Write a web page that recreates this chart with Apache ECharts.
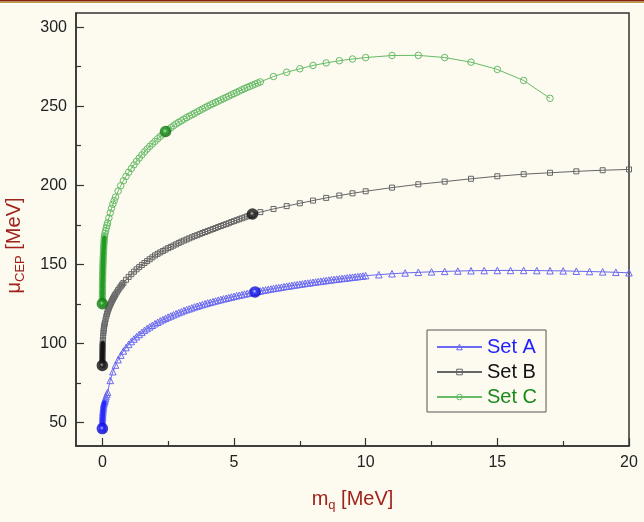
<!DOCTYPE html>
<html>
<head>
<meta charset="utf-8">
<script src="https://cdn.jsdelivr.net/npm/echarts@6/dist/echarts.min.js"></script>
<style>
html,body{margin:0;padding:0;background:#fdfaf0;}
#chart{width:644px;height:522px;}
</style>
</head>
<body>
<div id="chart"></div>
<script>
// ---- data ----
const setA = [
[0,46],[0.001,47],[0.002,48],[0.003,49],[0.004,50],[0.006,51],[0.008,52],[0.01,53],[0.013,54],[0.016,55],
[0.02,56],[0.025,57],[0.03,58],[0.036,59],[0.043,60],[0.05,61],[0.06,61.8],[0.07,62.5],[0.085,63.3],[0.1,64],
[0.12,65],[0.14,66.2],[0.17,67.6],
[0.2,69.0],[0.3,76.5],[0.4,82.0],[0.5,86.2],[0.6,89.6],[0.7,92.5],[0.8,95.1],[0.9,97.3],[1.0,99.3],
[1.1,101.1],[1.2,102.7],[1.3,104.2],[1.4,105.6],[1.5,106.9],[1.6,108.2],[1.7,109.3],[1.8,110.4],[1.9,111.4],[2.0,112.4],
[2.1,113.3],[2.2,114.2],[2.3,115.0],[2.4,115.8],[2.5,116.6],[2.6,117.3],[2.7,118.0],[2.8,118.7],[2.9,119.4],[3.0,120.0],
[3.1,120.7],[3.2,121.3],[3.3,121.8],[3.4,122.4],[3.5,123.0],[3.6,123.5],[3.7,124.0],[3.8,124.5],[3.9,125.0],[4.0,125.5],
[4.1,125.9],[4.2,126.4],[4.3,126.8],[4.4,127.3],[4.5,127.7],[4.6,128.1],[4.7,128.5],[4.8,128.9],[4.9,129.3],[5.0,129.7],
[5.1,130.1],[5.2,130.4],[5.3,130.8],[5.4,131.2],[5.5,131.5],[5.6,131.8],[5.7,132.2],[5.8,132.5],[5.9,132.8],[6.0,133.1],
[6.1,133.5],[6.2,133.8],[6.3,134.1],[6.4,134.4],[6.5,134.7],[6.6,135.0],[6.7,135.2],[6.8,135.5],[6.9,135.8],[7.0,136.1],
[7.1,136.3],[7.2,136.6],[7.3,136.9],[7.4,137.1],[7.5,137.4],[7.6,137.6],[7.7,137.9],[7.8,138.1],[7.9,138.3],[8.0,138.6],
[8.1,138.8],[8.2,139.1],[8.3,139.3],[8.4,139.5],[8.5,139.7],[8.6,140.0],[8.7,140.2],[8.8,140.4],[8.9,140.6],[9.0,140.8],
[9.1,141.0],[9.2,141.2],[9.3,141.4],[9.4,141.6],[9.5,141.8],[9.6,142.0],[9.7,142.2],[9.8,142.4],[9.9,142.6],[10.0,142.8],
[10.5,143.4],[11,144.0],[11.5,144.5],[12,144.9],[12.5,145.2],[13,145.5],[13.5,145.7],[14,145.9],[14.5,146.0],[15,146.1],
[15.5,146.1],[16,146.1],[16.5,146.0],[17,145.9],[17.5,145.8],[18,145.6],[18.5,145.4],[19,145.2],[19.5,144.9],[20,144.6]
];
const setB = [
[0,86],[0.0005,87],[0.001,88],[0.0015,89],[0.002,90],[0.0025,91],[0.003,92],[0.004,93],[0.005,94],[0.006,95],
[0.007,96],[0.008,97],[0.01,98],[0.012,99],[0.014,100],[0.02,102],[0.03,104.5],[0.04,106.5],[0.05,108.2],[0.06,109.5],
[0.07,110.7],[0.085,112],[0.1,113.2],[0.125,115.2],
[0.15,117],[0.175,118.6],[0.2,120],[0.225,121.3],[0.25,122.5],[0.275,123.5],[0.3,124.5],[0.325,125.4],[0.35,126.3],[0.375,127.2],
[0.4,128],[0.425,128.8],[0.45,129.5],[0.475,130.3],[0.5,131],[0.55,132.3],
[0.6,133.6],[0.65,134.8],[0.7,136],[0.75,137.1],[0.8,138.2],
[0.9,140.2],[1.0,142],[1.1,143.7],[1.2,145.3],[1.3,146.8],[1.4,148.2],[1.5,149.5],[1.6,150.8],[1.7,152],[1.8,153.2],[1.9,154.4],
[2.0,155.6],[2.1,156.6],[2.2,157.5],[2.3,158.4],[2.4,159.3],[2.5,160.2],[2.6,161.0],[2.7,161.8],[2.8,162.6],[2.9,163.5],
[3.0,164.3],[3.1,165.0],[3.2,165.7],[3.3,166.4],[3.4,167.1],[3.5,167.8],[3.6,168.4],[3.7,169.1],[3.8,169.8],[3.9,170.4],
[4.0,171.0],[4.1,171.6],[4.2,172.3],[4.3,172.9],[4.4,173.6],[4.5,174.2],[4.6,174.8],[4.7,175.4],[4.8,176.0],[4.9,176.7],
[5.0,177.3],[5.1,177.9],[5.2,178.5],[5.3,179.1],[5.4,179.7],[5.5,180.3],[5.6,180.9],[5.7,181.5],
[6.0,183.0],[6.5,185.0],[7.0,186.8],[7.5,188.6],[8.0,190.3],[8.5,192.0],[9.0,193.5],[9.5,194.9],[10,196.2],
[11,198.5],[12,200.6],[13,202.3],[14,204.1],[15,205.7],[16,207.0],[17,207.9],[18,208.8],[19,209.5],[20,210.0]
];
const setC = [
[0,125],[0.0005,126.5],[0.001,128],[0.0015,129.5],[0.002,131],[0.003,132.5],[0.004,134],[0.005,135.5],[0.006,137],[0.008,138.5],
[0.01,140],[0.012,141.5],[0.014,143],[0.016,144.5],[0.018,146],[0.02,147.5],[0.023,149],[0.026,150.5],[0.029,152],[0.032,153.5],
[0.036,155],[0.04,156.5],[0.044,158],[0.048,159.5],[0.053,161],[0.058,162.5],[0.064,164],[0.07,165.5],[0.077,167],[0.085,168],
[0.1,169.5],[0.125,171.2],[0.15,173],[0.175,174.6],[0.2,176.2],[0.25,179.3],[0.3,182.5],[0.35,185.4],[0.4,188],[0.45,190.3],[0.5,192.5],
[0.6,196.3],[0.7,199.7],[0.8,202.8],[0.9,205.6],[1.0,208.2],[1.1,210.6],[1.2,212.9],[1.3,215.1],[1.4,217.2],[1.5,219.2],
[1.6,221.1],[1.7,222.9],[1.8,224.6],[1.9,226.2],[2.0,227.8],[2.1,229.4],[2.2,230.9],[2.3,232.4],[2.4,233.8],[2.5,235.2],
[2.6,236.4],[2.7,237.6],[2.8,238.8],[2.9,239.8],[3.0,240.8],[3.1,241.8],[3.2,242.8],[3.3,243.7],[3.4,244.6],[3.5,245.5],
[3.6,246.4],[3.7,247.3],[3.8,248.2],[3.9,249.1],[4.0,250.0],[4.1,250.8],[4.2,251.6],[4.3,252.4],[4.4,253.2],[4.5,254.0],
[4.6,254.8],[4.7,255.6],[4.8,256.4],[4.9,257.2],[5.0,258.0],[5.1,258.8],[5.2,259.6],[5.3,260.4],[5.4,261.2],[5.5,261.9],
[5.6,262.6],[5.7,263.3],[5.8,264.0],[5.9,264.7],[6.0,265.4],
[6.5,268.8],[7.0,271.5],[7.5,273.7],[8.0,275.8],[8.5,277.4],[9.0,278.8],[9.5,279.9],[10,280.8],
[11,282.1],[12,282.2],[13,280.8],[14,277.9],[15,273.3],[16,266.3],[17,255.0]
];
// highlighted (filled) points
const ballsA = [[0,46],[5.8,132.5]];
const ballsB = [[0,86],[5.7,181.8]];
const ballsC = [[0,125],[2.4,234]];
// number of leading points that overlap into a solid stroke near m_q = 0
const solidCountA = 18, solidCountB = 15, solidCountC = 29, greyEndB = 45;
// tick values
const xMajorTicks = [0,5,10,15,20];
const xMinorTicks = [2.5,7.5,12.5,17.5];
const yMajorTicks = [50,100,150,200,250,300];
const yMinorTicks = [75,125,175,225,275];
const legendNames = ['Set A','Set B','Set C'];

// ---- chart ----
const FONT = "'Liberation Sans', Arial, sans-serif";
const NAME_COLOR = '#a0231b';
const AXIS_COLOR = '#333';
const colA = '#6a6af2', colB = '#666666', colC = '#66bb66';

function ball(c0, c1, c2) {
  return new echarts.graphic.RadialGradient(0.45, 0.45, 0.6, [
    {offset: 0, color: c0}, {offset: 0.3, color: c1}, {offset: 1, color: c2}
  ]);
}
function solid(data, color, width) {
  return {type: 'line', data: data, symbol: 'none', silent: true, z: 4,
    lineStyle: {color: color, width: width, cap: 'round', join: 'round'}};
}

const nameRich = {
  m: {fontSize: 20, color: NAME_COLOR, fontFamily: FONT, lineHeight: 26, verticalAlign: 'middle'},
  s: {fontSize: 13, color: NAME_COLOR, fontFamily: FONT, lineHeight: 14, verticalAlign: 'bottom'}
};

const chart = echarts.init(document.getElementById('chart'), null, {renderer: 'canvas'});
const option = {
  backgroundColor: '#fdfaf0',
  animation: false,
  graphic: [
    {type: 'rect', left: 0, top: 0, shape: {width: 644, height: 1.5}, style: {fill: '#8b1c13'}},
    {type: 'rect', left: 0, top: 1.5, shape: {width: 644, height: 1.5}, style: {fill: '#b89a3a'}},
    {type: 'rect', left: 0, top: 3, shape: {width: 644, height: 2}, style: {fill: '#ffffff'}}
  ],
  grid: {left: 76, right: 15, top: 13, bottom: 76, show: true, borderColor: AXIS_COLOR, borderWidth: 1.5,
    backgroundColor: 'transparent', containLabel: false, outerBoundsMode: 'none'},
  legend: {
    data: [
      {name: legendNames[0], textStyle: {color: '#1f1fff'}, itemStyle: {color: 'rgba(0,0,0,0)', borderColor: colA, borderWidth: 1}},
      {name: legendNames[1], textStyle: {color: '#111111'}, itemStyle: {color: 'rgba(0,0,0,0)', borderColor: colB, borderWidth: 1}},
      {name: legendNames[2], textStyle: {color: '#1b8a1b'}, itemStyle: {color: 'rgba(0,0,0,0)', borderColor: colC, borderWidth: 1}}
    ],
    orient: 'vertical', left: 427, top: 330,
    itemWidth: 45, itemHeight: 7, itemGap: 5,
    padding: [7, 9, 5, 9],
    backgroundColor: '#fdfaf0', borderColor: '#555', borderWidth: 1,
    textStyle: {fontSize: 20, fontFamily: FONT}
  },
  xAxis: [
    {
      type: 'value', min: -1, max: 20, position: 'bottom',
      axisLine: {show: true, onZero: false, lineStyle: {color: AXIS_COLOR, width: 1.5}},
      axisTick: {show: true, inside: true, length: 8, customValues: xMajorTicks, lineStyle: {color: AXIS_COLOR, width: 1.2}},
      axisLabel: {customValues: xMajorTicks, margin: 9, fontSize: 16, color: '#222', fontFamily: FONT},
      splitLine: {show: false},
      name: '{m|m}{s|q}{m| [MeV]}', nameLocation: 'middle', nameGap: 40,
      nameTextStyle: {rich: nameRich}
    },
    {
      type: 'value', min: -1, max: 20, position: 'bottom',
      axisLine: {show: false, onZero: false},
      axisTick: {show: true, inside: true, length: 5, customValues: xMinorTicks, lineStyle: {color: AXIS_COLOR, width: 1.2}},
      axisLabel: {show: false},
      splitLine: {show: false}
    }
  ],
  yAxis: [
    {
      type: 'value', min: 35, max: 309, position: 'left',
      axisLine: {show: true, onZero: false, lineStyle: {color: AXIS_COLOR, width: 1.5}},
      axisTick: {show: true, inside: true, length: 8, customValues: yMajorTicks, lineStyle: {color: AXIS_COLOR, width: 1.2}},
      axisLabel: {customValues: yMajorTicks, margin: 9, fontSize: 16, color: '#222', fontFamily: FONT},
      splitLine: {show: false},
      name: '{m|μ}{s|CEP}{m| [MeV]}', nameLocation: 'middle', nameGap: 49,
      nameTextStyle: {rich: nameRich, padding: [0, 32, 0, 0]}
    },
    {
      type: 'value', min: 35, max: 309, position: 'left',
      axisLine: {show: false, onZero: false},
      axisTick: {show: true, inside: true, length: 5, customValues: yMinorTicks, lineStyle: {color: AXIS_COLOR, width: 1.2}},
      axisLabel: {show: false},
      splitLine: {show: false}
    }
  ],
  series: [
    {
      name: legendNames[0], type: 'line', data: setA, symbol: 'triangle', symbolSize: 6.5, showAllSymbol: true,
      lineStyle: {color: colA, width: 1}, itemStyle: {color: 'rgba(0,0,0,0)', borderColor: colA, borderWidth: 1}, z: 3
    },
    {
      name: legendNames[1], type: 'line', data: setB, symbol: 'rect', symbolSize: 5, showAllSymbol: true,
      lineStyle: {color: colB, width: 1}, itemStyle: {color: 'rgba(0,0,0,0)', borderColor: colB, borderWidth: 1}, z: 3
    },
    {
      name: legendNames[2], type: 'line', data: setC, symbol: 'circle', symbolSize: 6.5, showAllSymbol: true,
      lineStyle: {color: colC, width: 1}, itemStyle: {color: 'rgba(0,0,0,0)', borderColor: colC, borderWidth: 1}, z: 3
    },
    solid(setA.slice(0, solidCountA), '#2a2aff', 4.5),
    solid(setB.slice(solidCountB - 1, greyEndB), 'rgba(110,110,110,0.75)', 3.5),
    solid(setB.slice(0, solidCountB), '#141414', 4.5),
    solid(setC.slice(0, solidCountC), '#239a23', 4.5),
    {name: 'ptsA', type: 'scatter', data: ballsA, symbol: 'circle', symbolSize: 11.5, z: 5,
      itemStyle: {color: ball('#d8d8ff', '#2323ff', '#0000a8')}},
    {name: 'ptsB', type: 'scatter', data: ballsB, symbol: 'circle', symbolSize: 11.5, z: 5,
      itemStyle: {color: ball('#cccccc', '#222222', '#000000')}},
    {name: 'ptsC', type: 'scatter', data: ballsC, symbol: 'circle', symbolSize: 11.5, z: 5,
      itemStyle: {color: ball('#c8ecc8', '#1e991e', '#0a5c0a')}}
  ]
};
chart.setOption(option);
</script>
</body>
</html>
